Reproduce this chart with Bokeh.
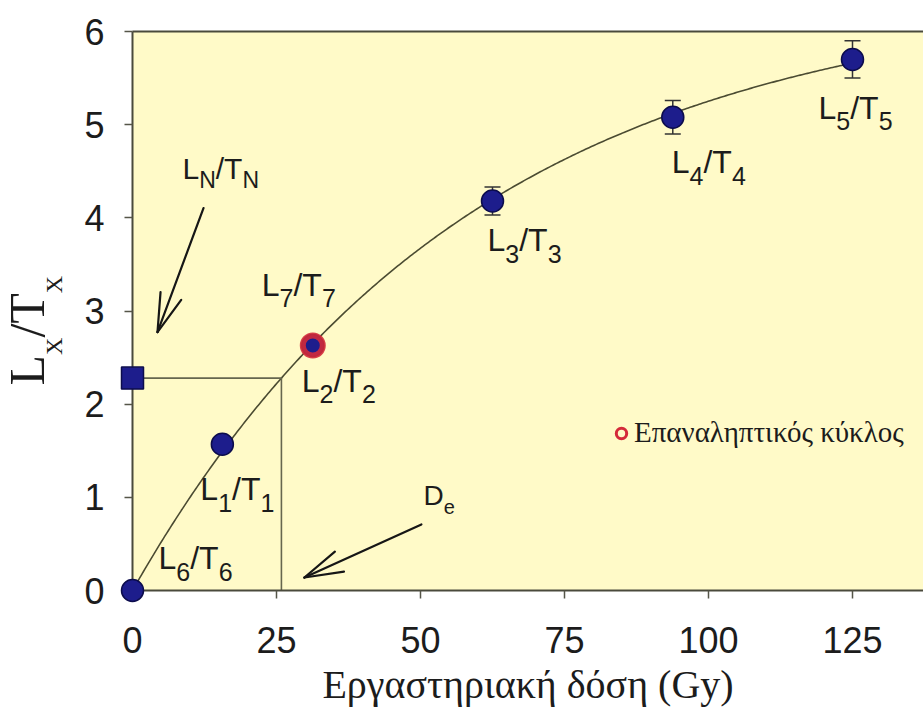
import numpy as np
from bokeh.plotting import figure
from bokeh.models import (Range1d, ColumnDataSource, Whisker, TeeHead, Label,
                          BoxAnnotation, Legend, LegendItem, FixedTicker)
from bokeh.embed import file_html
from bokeh.resources import INLINE

# Regenerative doses (Gy) and sensitivity-corrected signals Lx/Tx
point_names = ["6", "1", "2", "3", "4", "5"]
dose = [0.0, 15.6, 31.3, 62.5, 93.8, 125.0]
ratio = [0.0, 1.57, 2.63, 4.18, 5.08, 5.70]
ratio_err = [0.0, 0.0, 0.0, 0.15, 0.18, 0.20]

# recycling point (repeat of the second regenerative dose)
recycle_dose = [31.3]
recycle_ratio = [2.63]

# natural signal LN/TN
natural_ratio = 2.28

x_ticks = [0, 25, 50, 75, 100, 125]
y_ticks = [0, 1, 2, 3, 4, 5, 6]
y_max = 6

# ---- saturating-exponential growth curve fitted to the points ----
d = np.array(dose)
r = np.array(ratio)
best = None
for d0 in np.linspace(10, 300, 5801):
    f = 1 - np.exp(-d / d0)
    a = float(f @ r / (f @ f))
    sse = float(np.sum((a * f - r) ** 2))
    if best is None or sse < best[0]:
        best = (sse, a, d0)
_, A, D0 = best
De = -D0 * np.log(1 - natural_ratio / A)
curve_x = np.linspace(0, max(dose), 400)
curve_y = A * (1 - np.exp(-curve_x / D0))

# ---- layout: the frame fills the canvas, axes sit on x=0 / y=0 ----
W, H = 923, 711
X0_PX, Y0_PX, YTOP_PX = 132, 590, 31     # canvas pixels of x=0, y=0, y=6
XPX = 5.76                                # pixels per Gy
YPX = (Y0_PX - YTOP_PX) / y_max           # pixels per unit of Lx/Tx
x_range = Range1d(-X0_PX / XPX, (W - X0_PX) / XPX)
y_range = Range1d(-(H - Y0_PX) / YPX, y_max + YTOP_PX / YPX)

INK = "#1c1c1c"
AXIS = "#4a4a3c"
NAVY = "#1d1d8c"
NAVY_EDGE = "#0c0c4c"
RED = "#d42a3a"

p = figure(width=W, height=H, x_range=x_range, y_range=y_range,
           output_backend="svg", toolbar_location=None,
           min_border_left=0, min_border_right=0, min_border_top=0,
           min_border_bottom=0, background_fill_color="white",
           border_fill_color="white", outline_line_color=None)
p.xgrid.grid_line_color = None
p.ygrid.grid_line_color = None

# pale yellow plotting area
p.add_layout(BoxAnnotation(left=0, bottom=0, top=y_max, fill_color="#FFFAC8",
                           fill_alpha=1, line_color=None, level="underlay"))

for ax in (p.xaxis[0], p.yaxis[0]):
    ax.fixed_location = 0
    ax.axis_line_color = AXIS
    ax.axis_line_width = 2
    ax.major_tick_line_color = "#555548"
    ax.major_tick_line_width = 1.5
    ax.major_tick_in = 0
    ax.major_tick_out = 8
    ax.minor_tick_line_color = None
    ax.major_label_text_font = "Liberation Sans"
    ax.major_label_text_font_size = "36px"
    ax.major_label_text_color = INK
p.xaxis.bounds = (0, x_range.end)
p.yaxis.bounds = (0, y_max)
p.xaxis.ticker = FixedTicker(ticks=x_ticks)
p.yaxis.ticker = FixedTicker(ticks=y_ticks)
p.xaxis.major_label_standoff = 28
p.yaxis.major_label_standoff = 20
p.xaxis.axis_label = "Εργαστηριακή δόση (Gy)"
p.xaxis.axis_label_text_font = "Liberation Serif"
p.xaxis.axis_label_text_font_size = "40px"
p.xaxis.axis_label_text_font_style = "normal"
p.xaxis.axis_label_text_color = INK
p.xaxis.axis_label_standoff = 6

# top edge of the plotting area
p.line([0, x_range.end], [y_max, y_max], line_color=AXIS, line_width=2)

# growth curve and the De construction lines
p.line(curve_x, curve_y, line_color="#4b4b32", line_width=1.6)
p.line([0, De, De], [natural_ratio, natural_ratio, 0], line_color="#66664e", line_width=1.6)

# error bars
eb = ColumnDataSource(dict(
    x=[x for x, e in zip(dose, ratio_err) if e > 0],
    lo=[y - e for y, e in zip(ratio, ratio_err) if e > 0],
    hi=[y + e for y, e in zip(ratio, ratio_err) if e > 0]))
p.add_layout(Whisker(source=eb, base="x", lower="lo", upper="hi", dimension="height",
                     line_color="#333333", line_width=1.5, level="glyph",
                     upper_head=TeeHead(size=16, line_color="#333333", line_width=1.5),
                     lower_head=TeeHead(size=16, line_color="#333333", line_width=1.5)))

# data points, drawn above the axis lines
p.scatter(dose, ratio, size=22, fill_color=NAVY, line_color=NAVY_EDGE, line_width=1.5,
          level="overlay")
p.scatter([0], [natural_ratio], marker="square", size=22, fill_color=NAVY,
          line_color=NAVY_EDGE, line_width=1.5, level="overlay")
p.scatter(recycle_dose, recycle_ratio, size=20, fill_color=None, line_color=RED,
          line_width=6, line_alpha=0.9, level="overlay")

# legend for the recycling point (hidden twin renderer carries the legend style)
leg_r = p.scatter(recycle_dose, recycle_ratio, size=10, fill_color=None,
                  line_color=RED, line_width=3, visible=False)
legend = Legend(items=[LegendItem(label="Επαναληπτικός κύκλος", renderers=[leg_r])],
                location=(608, 262), background_fill_alpha=0, border_line_color=None,
                inactive_fill_alpha=0, padding=0, margin=0, spacing=0,
                glyph_width=26, glyph_height=32, label_standoff=0,
                label_text_font="Liberation Serif", label_text_font_size="29px",
                label_text_color=INK)
p.add_layout(legend)

# ---- text with subscripts ----
SANS_W = {"L": 0.556, "T": 0.611, "/": 0.278, "N": 0.722, "D": 0.722, "e": 0.556}
SERIF_W = {"L": 0.611, "T": 0.611, "/": 0.278, "X": 0.722}
LIFT = 0.4    # baseline correction, in em


def width(txt, size, table):
    return sum(table.get(c, 0.556) for c in txt) * size


def sub_text(x, y, dx, dy, parts, size=32, sub_size=25, drop=11):
    """Horizontal text whose baseline starts dx, dy pixels (dy downward) from (x, y)."""
    cur = dx
    for txt, sub in parts:
        fs = sub_size if sub else size
        p.add_layout(Label(x=x, y=y, x_offset=cur,
                           y_offset=-(dy + (drop if sub else 0)) + LIFT * fs,
                           text=txt, text_font="Liberation Sans", text_font_size=f"{fs}px",
                           text_color=INK, text_align="left", text_baseline="alphabetic"))
        cur += width(txt, fs, SANS_W)


def ratio_parts(n):
    return [("L", False), (n, True), ("/T", False), (n, True)]


# label offsets (pixels) from each marker centre
label_offsets = {"6": (26, -20), "1": (-22, 58), "2": (-11, 48), "3": (-5, 52),
                 "4": (-1, 58), "5": (-34, 61)}
for name, x, y in zip(point_names, dose, ratio):
    dx, dy = label_offsets[name]
    sub_text(x, y, dx, dy, ratio_parts(name))
sub_text(recycle_dose[0], recycle_ratio[0], -51, -48, ratio_parts("7"))
sub_text(0, natural_ratio, 50, -198, ratio_parts("N"), size=30, sub_size=23, drop=9)
sub_text(De, 0, 142, -84, [("D", False), ("e", True)], size=28, sub_size=20, drop=8)


# ---- arrows with long, narrow open heads ----
def arrow(x, y, tail, tip, arm=40, half_angle=16):
    tx, ty = tail
    hx, hy = tip
    vx, vy = tx - hx, ty - hy
    n = np.hypot(vx, vy)
    vx, vy = vx / n, vy / n
    xs, ys = [], []
    for s in (1, -1):
        t = np.radians(half_angle) * s
        ax_ = vx * np.cos(t) - vy * np.sin(t)
        ay_ = vx * np.sin(t) + vy * np.cos(t)
        xs.append([hx, hx + ax_ * arm])
        ys.append([hy, hy + ay_ * arm])
    xs.append([hx, tx])
    ys.append([hy, ty])
    # pixel offsets (y downward) -> data coordinates
    p.multi_line([[x + v / XPX for v in seg] for seg in xs],
                 [[y - v / YPX for v in seg] for seg in ys],
                 line_color="#161616", line_width=2.2, line_cap="round")


arrow(0, natural_ratio, tail=(71, -170), tip=(25, -46))
arrow(De, 0, tail=(140, -66), tip=(23, -13))

# ---- rotated y-axis title  Lx/Tx ----
YT_SIZE, YT_SUB = 50, 24
adv = Y0_PX - 385
for txt, sub in [("L", False), ("X", True), ("/", False), ("T", False), ("X", True)]:
    fs = YT_SUB if sub else YT_SIZE
    base_x = (62 if sub else 45) - 0.37 * fs
    p.add_layout(Label(x=0, y=0, x_offset=base_x - X0_PX, y_offset=adv, angle=np.pi / 2,
                       text=txt, text_font="Liberation Serif", text_font_size=f"{fs}px",
                       text_color=INK, text_align="left", text_baseline="alphabetic"))
    adv += width(txt, fs, SERIF_W)

open("out.html", "w").write(file_html(p, INLINE))
